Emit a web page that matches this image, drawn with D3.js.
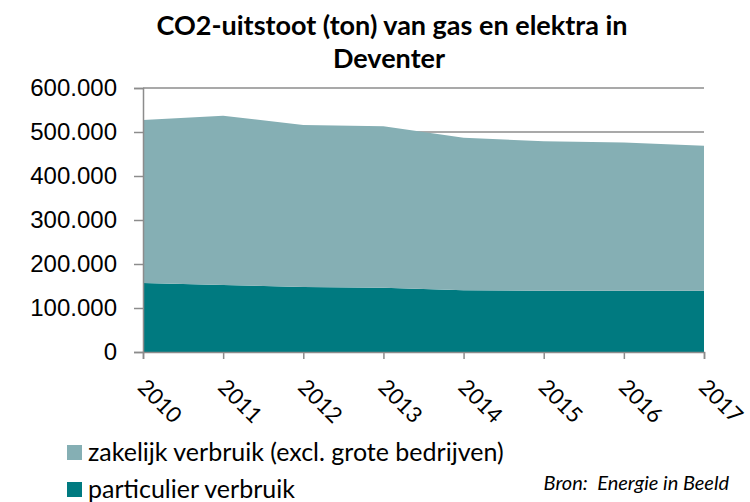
<!DOCTYPE html>
<html>
<head>
<meta charset="utf-8">
<script src="https://cdn.jsdelivr.net/npm/d3@7"></script>
<style>
  body { margin: 0; background: #fff; }
  svg { font-family: Lato, "Open Sans", sans-serif; }
</style>
</head>
<body>
<svg width="750" height="502"></svg>
<script>
const years = ['2010', '2011', '2012', '2013', '2014', '2015', '2016', '2017'];
const particulier = [157000, 152000, 148000, 146000, 140500, 139000, 139000, 139000];
const zakelijk = [370000, 385000, 368000, 367000, 346500, 340000, 337000, 330000];
const yTicks = [0, 100000, 200000, 300000, 400000, 500000, 600000];
const seriesNames = ['particulier verbruik', 'zakelijk verbruik (excl. grote bedrijven)'];
const colors = ['#007a80', '#85afb4'];

function plotChart() {
  const svg = d3.select('svg');
  const left = 143;
  const right = 704;
  const top = 88;
  const bottom = 352;

  const rows = years.map((y, i) => ({year: y, p: particulier[i], z: zakelijk[i]}));
  const stack = d3.stack().keys(['p', 'z'])(rows);

  const xScale = d3.scalePoint()
      .domain(years)
      .range([left, right]);
  const yScale = d3.scaleLinear()
      .domain([0, 600000])
      .range([bottom, top]);

  // title, two lines
  svg.append('text')
      .attr('x', 392)
      .attr('y', 35)
      .attr('text-anchor', 'middle')
      .style('font-size', '27px')
      .style('font-weight', 'bold')
      .text('CO2-uitstoot (ton) van gas en elektra in');
  svg.append('text')
      .attr('x', 389)
      .attr('y', 68)
      .attr('text-anchor', 'middle')
      .style('font-size', '27px')
      .style('font-weight', 'bold')
      .text('Deventer');

  // gridlines
  svg.append('g')
      .selectAll('line')
      .data(yTicks.slice(1))
      .join('line')
      .attr('x1', left)
      .attr('x2', right)
      .attr('y1', d => yScale(d))
      .attr('y2', d => yScale(d))
      .attr('stroke', '#8c8c8c')
      .attr('stroke-width', 1.5);

  const area = d3.area()
      .x(d => xScale(d.data.year))
      .y0(d => yScale(d[0]))
      .y1(d => yScale(d[1]));

  svg.append('g')
      .selectAll('path')
      .data(stack)
      .join('path')
      .attr('d', area)
      .attr('fill', (d, i) => colors[i]);

  const fmt = v => v === 0 ? '0' : d3.format(',')(v).replace(/,/g, '.');

  const yAxis = d3.axisLeft(yScale)
      .tickValues(yTicks)
      .tickFormat(fmt)
      .tickSize(9)
      .tickPadding(17);
  const yG = svg.append('g')
      .attr('transform', `translate(${left}, 0)`)
      .call(yAxis);
  yG.selectAll('text')
      .style('font-size', '24px')
      .attr('fill', '#000');

  const xAxis = d3.axisBottom(xScale)
      .tickSize(7)
      .tickFormat('');
  svg.append('g')
      .attr('transform', `translate(0, ${bottom})`)
      .call(xAxis);

  svg.selectAll('.domain, .tick line')
      .attr('stroke', '#8c8c8c')
      .attr('stroke-width', 1.5);

  // rotated year labels
  svg.append('g')
      .selectAll('text')
      .data(years)
      .join('text')
      .attr('transform', d => `translate(${xScale(d) - 1}, 383) rotate(45)`)
      .attr('dy', '0.35em')
      .style('font-size', '22px')
      .text(d => d);

  // legend
  const legend = svg.append('g');
  [1, 0].forEach((s, j) => {
    const y = 453 + j * 37;
    legend.append('rect')
        .attr('x', 67)
        .attr('y', y - 8)
        .attr('width', 15)
        .attr('height', 15)
        .attr('fill', colors[s]);
    legend.append('text')
        .attr('x', 88)
        .attr('y', y + 8)
        .style('font-size', '25px')
        .text(seriesNames[s]);
  });

  svg.append('text')
      .attr('x', 729)
      .attr('y', 490)
      .attr('text-anchor', 'end')
      .attr('xml:space', 'preserve')
      .style('font-size', '20px')
      .style('font-style', 'italic')
      .text('Bron:  Energie in Beeld');
}

plotChart();
</script>
</body>
</html>
